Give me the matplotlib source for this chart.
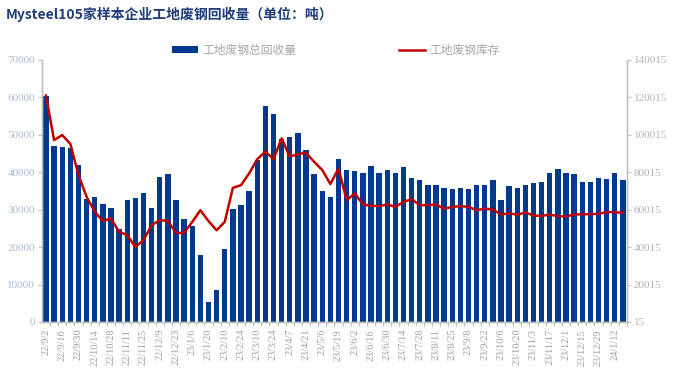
import matplotlib
matplotlib.use("Agg")
import matplotlib.pyplot as plt
from matplotlib.patches import Patch
from matplotlib.lines import Line2D

plt.rcParams['font.family'] = ['Noto Sans CJK SC', 'DejaVu Sans']

dates = ["22/9/2", "22/9/9", "22/9/16", "22/9/23", "22/9/30", "22/10/7", "22/10/14", "22/10/21",
         "22/10/28", "22/11/4", "22/11/11", "22/11/18", "22/11/25", "22/12/2", "22/12/9", "22/12/16",
         "22/12/23", "22/12/30", "23/1/6", "23/1/13", "23/1/20", "23/2/3", "23/2/10", "23/2/17",
         "23/2/24", "23/3/3", "23/3/10", "23/3/17", "23/3/24", "23/3/31", "23/4/7", "23/4/14",
         "23/4/21", "23/4/28", "23/5/6", "23/5/12", "23/5/19", "23/5/26", "23/6/2", "23/6/9",
         "23/6/16", "23/6/21", "23/6/30", "23/7/7", "23/7/14", "23/7/21", "23/7/28", "23/8/4",
         "23/8/11", "23/8/18", "23/8/25", "23/9/1", "23/9/8", "23/9/15", "23/9/22", "23/9/28",
         "23/10/6", "23/10/13", "23/10/20", "23/10/27", "23/11/3", "23/11/10", "23/11/17", "23/11/24",
         "23/12/1", "23/12/8", "23/12/15", "23/12/22", "23/12/29", "24/1/5", "24/1/12", "24/1/19"]

recovery = [60400, 47000, 46700, 46500, 41900, 32800, 33300, 31400, 30400, 24800,
            32500, 33100, 34400, 30400, 38700, 39500, 32500, 27400, 25600, 17800,
            5300, 8500, 19400, 30100, 31200, 34900, 43200, 57600, 55500, 48800,
            49400, 50400, 45900, 39500, 34900, 33400, 43500, 40500, 40300, 39700,
            41600, 39900, 40500, 39900, 41300, 38400, 37900, 36500, 36500, 35900,
            35500, 35900, 35500, 36500, 36500, 37900, 32700, 36200, 35800, 36700,
            37000, 37500, 39900, 40800, 39900, 39500, 37500, 37500, 38400, 38100,
            39900, 37900]

inventory = [121000, 97200, 99900, 95100, 78500, 66900, 58900, 54000, 55300, 48200,
             46400, 40100, 43700, 51700, 54400, 54000, 47600, 47600, 53500, 59700,
             53900, 49000, 53500, 71700, 73100, 79400, 87000, 91000, 87000, 98100,
             88300, 89700, 90400, 85600, 81200, 73700, 82000, 65100, 68700, 62800,
             62100, 61900, 62800, 61500, 64200, 65600, 62400, 62400, 62800, 60500,
             61500, 61900, 61500, 59700, 60600, 60100, 57400, 58100, 57300, 58500,
             56900, 56700, 57400, 56500, 56400, 57400, 57600, 57600, 57800, 58700,
             58700, 58300]

bar_label = "工地废钢总回收量"
line_label = "工地废钢库存"
title = "Mysteel105家样本企业工地废钢回收量（单位：吨）"

left_ticks = list(range(0, 70001, 10000))
right_ticks = list(range(15, 140016, 20000))

BAR_C = "#003A8C"
LINE_C = "#C00000"
SPINE_C = "#BFBFBF"

fig = plt.figure(figsize=(6.76, 3.77), dpi=100)
ax = fig.add_axes([0.062, 0.146, 0.8655, 0.695])
x = list(range(len(dates)))
ax.bar(x, recovery, width=0.66, color=BAR_C, zorder=2)
ax.set_xlim(-0.5, len(dates) - 0.5)
ax.set_ylim(0, 70000)
ax.set_yticks(left_ticks)
ax.set_yticklabels([str(v) for v in left_ticks], family='Liberation Serif', fontsize=8, color="#A9BCD3")

ax2 = ax.twinx()
ax2.plot(x, inventory, color=LINE_C, lw=1.8, zorder=3)
ax2.set_ylim(15, 140015)
ax2.set_yticks(right_ticks)
ax2.set_yticklabels([str(v) for v in right_ticks], family='Liberation Serif', fontsize=8, color="#B8B4AE")

ax.set_xticks(x[::2])
ax.set_xticklabels(dates[::2], rotation=90, family='Liberation Serif', fontsize=7.5, color="#A0A0A0")
ax.set_xticks([i + 0.5 for i in x], minor=True)
ax.tick_params(axis='x', which='major', length=0, pad=5)
ax.tick_params(axis='x', which='minor', length=3, color=SPINE_C, width=0.8)
ax.tick_params(axis='y', length=3, color=SPINE_C, width=0.8, pad=2)
ax2.tick_params(axis='y', length=3, color=SPINE_C, width=0.8, pad=2)

for a in (ax, ax2):
    a.spines['top'].set_visible(False)
    for s in ('left', 'right', 'bottom'):
        a.spines[s].set_color(SPINE_C)
        a.spines[s].set_linewidth(1.0)
ax.set_zorder(ax2.get_zorder() - 1)
ax2.patch.set_visible(False)

fig.text(0.008, 0.962, title, fontsize=10, fontweight='bold', color="#1F3D7A", va='center', ha='left')

handles = [Patch(facecolor=BAR_C, edgecolor='none'), Line2D([0], [0], color=LINE_C, lw=1.8)]
fig.legend(handles, [bar_label, line_label], loc='center', bbox_to_anchor=(0.497, 0.867), ncol=2,
           frameon=False, fontsize=8.5, labelcolor="#A6A6A6", handlelength=2.2, handleheight=0.6,
           handletextpad=0.4, columnspacing=8.7)

fig.savefig("out.png", dpi=100)
